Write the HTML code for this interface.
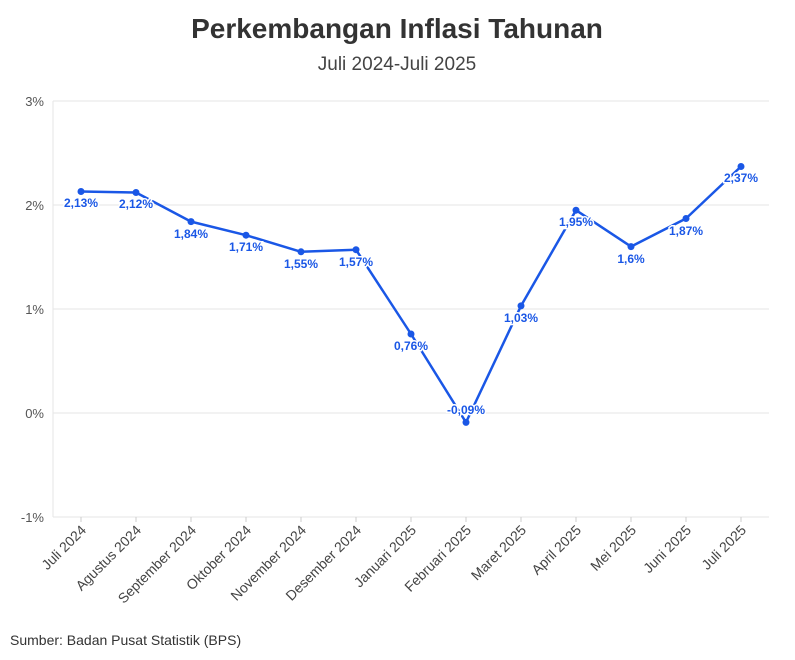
<!DOCTYPE html>
<html><head><meta charset="utf-8"><style>
body{margin:0;background:#fff;}
svg{display:block;font-family:"Liberation Sans",sans-serif;}
</style></head><body>
<svg width="795" height="660" viewBox="0 0 795 660" xmlns="http://www.w3.org/2000/svg">
<text x="397" y="38" text-anchor="middle" font-size="28" font-weight="bold" fill="#333">Perkembangan Inflasi Tahunan</text>
<text x="397" y="70" text-anchor="middle" font-size="19" fill="#444">Juli 2024-Juli 2025</text>
<g stroke="#e6e6e6" stroke-width="1">
<line x1="53" y1="101" x2="769" y2="101"/><line x1="53" y1="205" x2="769" y2="205"/>
<line x1="53" y1="309" x2="769" y2="309"/><line x1="53" y1="413" x2="769" y2="413"/>
<line x1="53" y1="517" x2="769" y2="517"/><line x1="53" y1="101" x2="53" y2="517"/>
</g>
<g font-size="13" fill="#555" text-anchor="end">
<text x="44" y="106">3%</text><text x="44" y="210">2%</text><text x="44" y="314">1%</text><text x="44" y="418">0%</text><text x="44" y="522">-1%</text>
</g>
<g stroke="#ccc"><line x1="81" y1="517" x2="81" y2="522"/><line x1="136" y1="517" x2="136" y2="522"/><line x1="191" y1="517" x2="191" y2="522"/><line x1="246" y1="517" x2="246" y2="522"/><line x1="301" y1="517" x2="301" y2="522"/><line x1="356" y1="517" x2="356" y2="522"/><line x1="411" y1="517" x2="411" y2="522"/><line x1="466" y1="517" x2="466" y2="522"/><line x1="521" y1="517" x2="521" y2="522"/><line x1="576" y1="517" x2="576" y2="522"/><line x1="631" y1="517" x2="631" y2="522"/><line x1="686" y1="517" x2="686" y2="522"/><line x1="741" y1="517" x2="741" y2="522"/></g>
<g font-size="14" fill="#444" text-anchor="end">
<text transform="translate(87,531) rotate(-45)">Juli 2024</text>
<text transform="translate(142,531) rotate(-45)">Agustus 2024</text>
<text transform="translate(197,531) rotate(-45)">September 2024</text>
<text transform="translate(252,531) rotate(-45)">Oktober 2024</text>
<text transform="translate(307,531) rotate(-45)">November 2024</text>
<text transform="translate(362,531) rotate(-45)">Desember 2024</text>
<text transform="translate(417,531) rotate(-45)">Januari 2025</text>
<text transform="translate(472,531) rotate(-45)">Februari 2025</text>
<text transform="translate(527,531) rotate(-45)">Maret 2025</text>
<text transform="translate(582,531) rotate(-45)">April 2025</text>
<text transform="translate(637,531) rotate(-45)">Mei 2025</text>
<text transform="translate(692,531) rotate(-45)">Juni 2025</text>
<text transform="translate(747,531) rotate(-45)">Juli 2025</text>
</g>
<polyline fill="none" stroke="#1a57e6" stroke-width="2.5" stroke-linejoin="round" points="81,191.5 136,192.5 191,221.6 246,235.2 301,251.8 356,249.7 411,334 466,422.4 521,305.9 576,210.2 631,246.6 686,218.5 741,166.5"/>
<g fill="#1a57e6">
<circle cx="81" cy="191.5" r="3.5"/><circle cx="136" cy="192.5" r="3.5"/><circle cx="191" cy="221.6" r="3.5"/><circle cx="246" cy="235.2" r="3.5"/><circle cx="301" cy="251.8" r="3.5"/><circle cx="356" cy="249.7" r="3.5"/><circle cx="411" cy="334" r="3.5"/><circle cx="466" cy="422.4" r="3.5"/><circle cx="521" cy="305.9" r="3.5"/><circle cx="576" cy="210.2" r="3.5"/><circle cx="631" cy="246.6" r="3.5"/><circle cx="686" cy="218.5" r="3.5"/><circle cx="741" cy="166.5" r="3.5"/>
</g>
<g font-size="12" font-weight="bold" fill="#1a57e6" text-anchor="middle" stroke="#fff" stroke-width="3" paint-order="stroke">
<text x="81" y="207">2,13%</text><text x="136" y="208">2,12%</text><text x="191" y="238">1,84%</text><text x="246" y="251">1,71%</text><text x="301" y="268">1,55%</text><text x="356" y="266">1,57%</text><text x="411" y="350">0,76%</text><text x="466" y="414">-0,09%</text><text x="521" y="322">1,03%</text><text x="576" y="226">1,95%</text><text x="631" y="263">1,6%</text><text x="686" y="235">1,87%</text><text x="741" y="182">2,37%</text>
</g>
<text x="10" y="645" font-size="14" fill="#333">Sumber: Badan Pusat Statistik (BPS)</text>
</svg>
</body></html>
